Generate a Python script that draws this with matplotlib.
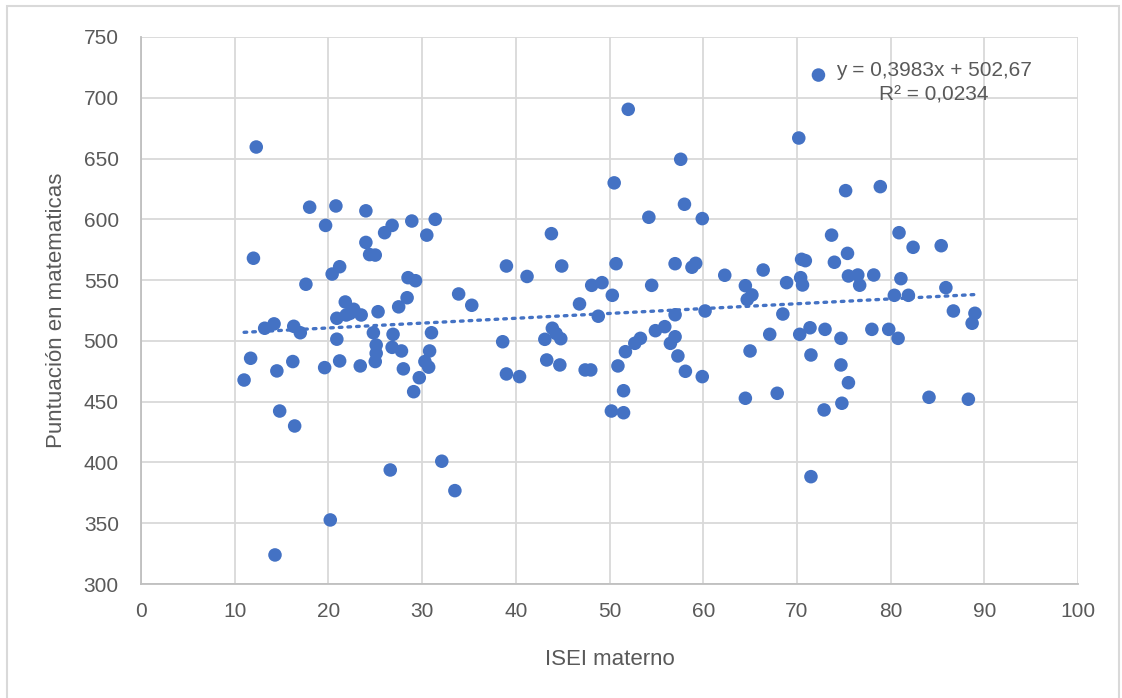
import matplotlib
matplotlib.use("Agg")
import matplotlib.pyplot as plt
from matplotlib.patches import Rectangle
import numpy as np

# Mother's occupational status (ISEI) vs. math score
isei = [
    12.3, 18.0, 20.8, 24.0, 19.7, 26.8, 26.0, 28.9, 31.4, 30.5, 24.0, 24.4, 25.0,
    12.0, 21.2, 20.4, 17.6, 28.5, 29.3, 33.9, 28.4, 21.8, 22.7, 25.3, 27.5,
    23.5, 20.9, 21.9, 22.3, 13.2, 14.2, 16.3, 17.0, 24.8, 26.9, 31.0, 20.9,
    25.1, 26.8, 27.8, 30.8, 25.1, 25.0, 11.7, 16.2, 21.2, 23.4, 19.6, 30.3,
    30.7, 28.0, 14.5, 11.0, 29.7, 29.1, 14.8, 16.4, 32.1, 26.6, 33.5, 20.2, 14.3,
    52.0, 57.6, 50.5, 58.0, 54.2, 59.9, 43.8, 39.0, 44.9, 41.2, 50.7, 57.0,
    59.2, 58.8, 62.3, 35.3, 48.1, 49.2, 54.5, 50.3, 46.8, 48.8, 57.0, 60.2,
    43.9, 44.3, 43.1, 44.8, 38.6, 39.0, 40.4, 43.3, 44.7, 47.4, 48.0, 54.9,
    55.9, 53.3, 52.7, 51.7, 57.0, 56.5, 57.3, 58.1, 59.9, 50.9, 51.5, 50.2, 51.5,
    72.3, 70.2, 75.2, 78.9, 73.7, 80.9, 82.4, 85.4, 70.5, 70.9, 74.0, 75.4,
    66.4, 68.9, 70.4, 70.6, 75.5, 76.5, 76.7, 78.2, 81.1, 85.9, 64.5, 65.2,
    64.7, 80.4, 81.9, 86.7, 89.0, 88.7, 68.5, 67.1, 70.3, 71.4, 73.0, 74.7,
    78.0, 79.8, 80.8, 65.0, 71.5, 74.7, 75.5, 74.8, 72.9, 67.9, 64.5, 84.1,
    88.3, 71.5,
]
puntuacion = [
    659.5, 610, 611, 607, 595, 595, 589, 598.6, 600, 587, 581, 571, 570.6,
    568, 561, 555, 546.6, 552, 549.5, 538.6, 535.5, 532, 526, 524, 528,
    521.3, 518.6, 521.3, 522.6, 510.4, 514, 512, 506.7, 506.7, 505.4, 506.7, 501.4,
    496.6, 494.7, 491.7, 491.7, 489.8, 483, 485.7, 483, 483.5, 479.4, 478, 483,
    478.4, 477, 475.3, 467.8, 469.7, 458.2, 442.3, 430, 401, 393.8, 376.8, 352.7, 323.9,
    690.5, 649.4, 630, 612.4, 601.7, 600.6, 588.2, 561.6, 561.6, 553, 563.5, 563.5,
    563.8, 560.6, 554, 529.3, 545.7, 547.9, 545.7, 537.5, 530.4, 520.3, 521.5, 524.6,
    510.4, 506, 501.3, 501.8, 499.3, 472.8, 470.6, 484.3, 480.2, 476.1, 476.1, 508.4,
    511.7, 502.1, 498, 491.1, 503.4, 498, 487.6, 475, 470.6, 479.4, 459, 442.3, 440.9,
    718.7, 666.9, 623.6, 626.9, 587, 589, 577, 578.3, 567.1, 566, 564.7, 572,
    558.3, 547.9, 552, 546, 553.4, 554.2, 545.8, 554.2, 551.2, 543.8, 545.4, 537.8,
    534, 537.5, 537.5, 524.6, 522.7, 514.5, 522.1, 505.4, 505.4, 510.8, 509.5, 502.1,
    509.5, 509.5, 502.1, 491.7, 488.4, 480.2, 465.6, 448.7, 443.2, 456.9, 452.8, 453.6,
    452, 388.3,
]

# Linear trend as reported in the equation label
pendiente = 0.3983
intercepto = 502.67
r2 = 0.0234

x_ticks = list(range(0, 101, 10))
y_ticks = list(range(300, 751, 50))

BLUE = "#4472C4"
GRID = "#D9D9D9"
TEXT = "#595959"

plt.rcParams["font.family"] = ["Liberation Sans Narrow", "Liberation Sans", "DejaVu Sans"]

fig = plt.figure(figsize=(11.22, 6.98), dpi=100)
ax = fig.add_axes([141 / 1122, 1 - 584 / 698, (1078 - 141) / 1122, (584 - 37) / 698])

# Chart-area frame
fig.patches.append(Rectangle((7 / 1122, -0.01), (1119 - 7) / 1122, 1 - 6 / 698 + 0.01,
                             transform=fig.transFigure, fill=False,
                             edgecolor=GRID, linewidth=1.5, zorder=0))

ax.scatter(isei, puntuacion, s=95, color=BLUE, edgecolors="none", zorder=3)

x_min, x_max = min(isei), max(isei)
xt = np.array([x_min, x_max])
ax.plot(xt, pendiente * xt + intercepto, linestyle=(0, (0.8, 1.8)), color=BLUE,
        linewidth=2.4, dash_capstyle="round", zorder=2)

eq = f"y = {pendiente:.4f}x + {intercepto:.2f}".replace(".", ",")
r2_txt = f"R² = {r2:.4f}".replace(".", ",")
ax.text(84.6, 712.5, eq + "\n" + r2_txt, ha="center", va="center", fontsize=15,
        color=TEXT, linespacing=1.4, zorder=4)

ax.set_xlim(0, 100)
ax.set_ylim(300, 750)
ax.set_xticks(x_ticks)
ax.set_yticks(y_ticks)
ax.grid(True, color=GRID, linewidth=1.3, zorder=0)
ax.set_axisbelow(True)
for side in ["top", "right"]:
    ax.spines[side].set_visible(False)
for side in ["left", "bottom"]:
    ax.spines[side].set_color("#BFBFBF")
    ax.spines[side].set_linewidth(1.3)
ax.tick_params(length=0, labelsize=15, labelcolor=TEXT)
ax.tick_params(axis="x", pad=13)
ax.tick_params(axis="y", pad=16)
ax.set_xlabel("ISEI materno", fontsize=16, color=TEXT, labelpad=20)
ax.set_ylabel("Puntuación en matematicas", fontsize=16, color=TEXT, labelpad=12)

fig.savefig("out.png", dpi=100)
